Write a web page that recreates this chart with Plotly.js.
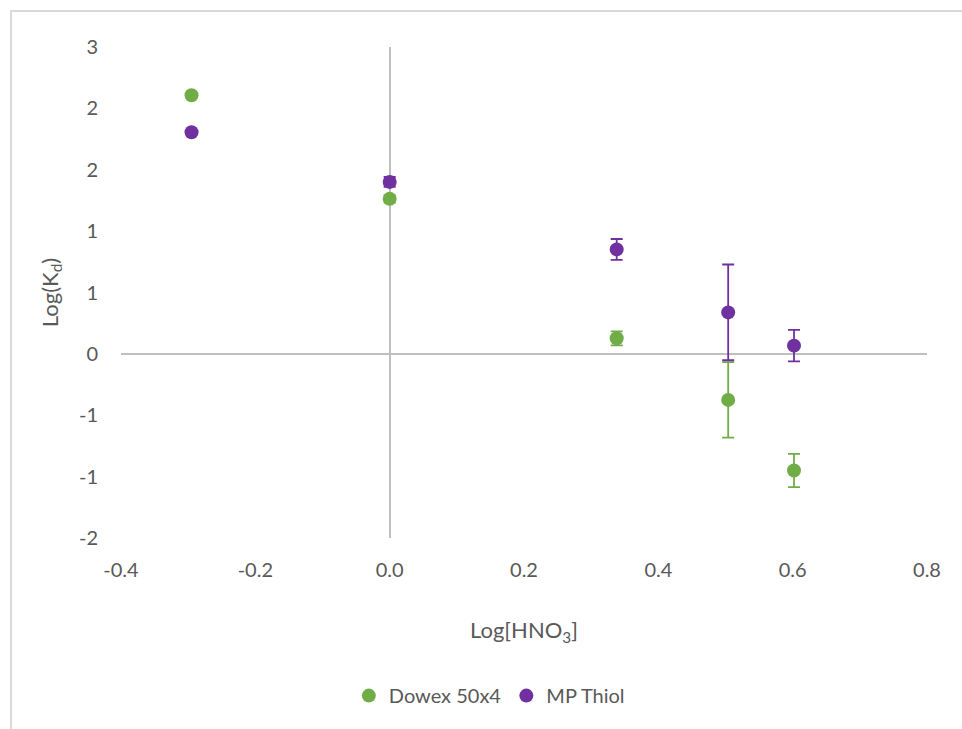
<!DOCTYPE html>
<html>
<head>
<meta charset="utf-8">
<script src="https://cdn.plot.ly/plotly-3.0.1.min.js"></script>
<style>
  html, body { margin: 0; padding: 0; background: #ffffff; }
  #wrap { position: relative; width: 962px; height: 729px; overflow: hidden; }
  #frame { position: absolute; left: 10px; top: 10px; width: 1000px; height: 800px;
           border-left: 2px solid #d9d9d9; border-top: 2px solid #d9d9d9; box-sizing: border-box; pointer-events: none; }
  #chart { position: absolute; left: 0; top: 0; width: 962px; height: 729px; }
</style>
</head>
<body>
<div id="wrap">
  <div id="chart"></div>
  <div id="frame"></div>
</div>
<script>
// Data
const xDowex = [-0.295, 0.0, 0.338, 0.504, 0.602];
const yDowex = [2.107, 1.263, 0.127, -0.375, -0.950];
const errDowex = [0.0, 0.03, 0.057, 0.307, 0.136];

const xThiol = [-0.295, 0.0, 0.338, 0.504, 0.602];
const yThiol = [1.806, 1.401, 0.851, 0.338, 0.067];
const errThiol = [0.0, 0.04, 0.085, 0.39, 0.128];

const seriesNames = ["Dowex 50x4", "MP Thiol"];
const yTickVals = [-1.5, -1.0, -0.5, 0, 0.5, 1.0, 1.5, 2.0, 2.5];
const yTickText = ["-2", "-1", "-1", "0", "1", "1", "2", "2", "3"];
const xTickVals = [-0.4, -0.2, 0.0, 0.2, 0.4, 0.6, 0.8];
const xTickText = ["-0.4", "-0.2", "0.0", "0.2", "0.4", "0.6", "0.8"];

const green = "#70AD47";
const purple = "#7030A0";
const textColor = "#595959";
const font = "Lato, 'Open Sans', sans-serif";

const traces = [
  {
    x: xDowex, y: yDowex, name: seriesNames[0], type: "scatter", mode: "markers",
    marker: { color: green, size: 14 },
    error_y: { type: "data", array: errDowex, visible: true, color: green, thickness: 1.8, width: 6 }
  },
  {
    x: xThiol, y: yThiol, name: seriesNames[1], type: "scatter", mode: "markers",
    marker: { color: purple, size: 14 },
    error_y: { type: "data", array: errThiol, visible: true, color: purple, thickness: 1.8, width: 6 }
  }
];

const layout = {
  width: 962, height: 729,
  paper_bgcolor: "#ffffff", plot_bgcolor: "#ffffff",
  margin: { l: 121, r: 35, t: 47, b: 191, pad: 0 },
  font: { family: font, color: textColor, size: 20 },
  showlegend: true,
  legend: {
    orientation: "h", x: 0.457, xanchor: "center", y: -0.321, yanchor: "middle",
    font: { family: font, size: 20, color: textColor }, itemwidth: 30, tracegroupgap: 0
  },
  xaxis: {
    range: [-0.4, 0.8], tickmode: "array", tickvals: xTickVals, ticktext: xTickText,
    showgrid: false, showline: false, ticks: "", zeroline: true, zerolinecolor: "#bfbfbf", zerolinewidth: 2,
    tickfont: { family: font, size: 20, color: textColor }, ticklabelstandoff: 18,
    title: { text: "Log[HNO<sub>3</sub>]", font: { family: font, size: 22, color: textColor }, standoff: 42 },
    automargin: false, fixedrange: true
  },
  yaxis: {
    range: [-1.5, 2.5], tickmode: "array", tickvals: yTickVals, ticktext: yTickText,
    showgrid: false, showline: false, ticks: "", zeroline: true, zerolinecolor: "#bfbfbf", zerolinewidth: 2,
    tickfont: { family: font, size: 20, color: textColor }, ticklabelstandoff: 22,
    title: { text: "Log(K<sub>d</sub>)", font: { family: font, size: 22, color: textColor }, standoff: 14 },
    automargin: false, fixedrange: true
  }
};

Plotly.newPlot("chart", traces, layout, { displayModeBar: false, staticPlot: true });
</script>
</body>
</html>
